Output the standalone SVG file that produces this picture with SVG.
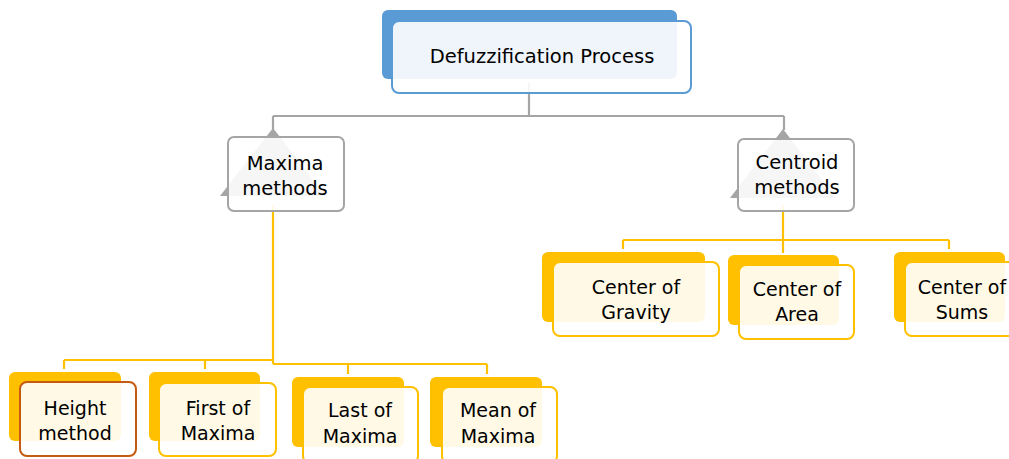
<svg xmlns="http://www.w3.org/2000/svg" width="1009" height="459" viewBox="0 0 1009 459">
<style>
.t{font-family:"DejaVu Sans",sans-serif;font-size:19px;fill:#000;text-anchor:middle}
.tl{font-size:19.5px}
.gl{fill:none;stroke:#A5A5A5;stroke-width:2.2}
.yl{fill:none;stroke:#FFC000;stroke-width:2.2}
.bb{fill:#5B9BD5}
.yb{fill:#FFC000}
.fb{fill:#fff;fill-opacity:0.9;stroke:#5B9BD5;stroke-width:2}
.fy{fill:#fff;fill-opacity:0.9;stroke:#FFC000;stroke-width:2}
.fh{fill:#fff;fill-opacity:0.9;stroke:#C55A11;stroke-width:2}
.fg{fill:#fff;fill-opacity:0.9;stroke:#A5A5A5;stroke-width:2}
.tri{fill:#A5A5A5}
</style>
<g id="connectors">
<path class="gl" d="M529,83 V116 M273,116 H784 M273,116 V129 M784,116 V130"/>
<path class="yl" d="M273,205 V364 M64,360 H273 M273,364 H487 M64,360 V369 M205,360 V369 M348,364 V374 M487,364 V374"/>
<path class="yl" d="M783,205 V253 M623,240 H949 M623,240 V249 M949,240 V249"/>
</g>
<g id="node-defuzzification">
<rect class="bb" x="382" y="10" width="295" height="69" rx="6"/>
<rect class="fb" x="392" y="21" width="299" height="72" rx="7"/>
<text class="t tl" x="542" y="63">Defuzzification Process</text>
</g>
<g id="node-maxima">
<polygon class="tri" points="273,128 220,196 326,196"/>
<rect class="fg" x="228" y="137" width="116" height="74" rx="6"/>
<text class="t tl" x="285" y="170">Maxima</text>
<text class="t tl" x="285" y="195">methods</text>
</g>
<g id="node-centroid">
<polygon class="tri" points="783,129 730,198 836,198"/>
<rect class="fg" x="738" y="139" width="116" height="72" rx="6"/>
<text class="t tl" x="797" y="169">Centroid</text>
<text class="t tl" x="797" y="194">methods</text>
</g>
<g id="node-cog">
<rect class="yb" x="542" y="252" width="163" height="70" rx="6"/>
<rect class="fy" x="553" y="262" width="166" height="74" rx="7"/>
<text class="t" x="636" y="294">Center of</text>
<text class="t" x="636" y="319">Gravity</text>
</g>
<g id="node-coa">
<rect class="yb" x="728" y="255" width="111" height="70" rx="6"/>
<rect class="fy" x="739" y="265" width="115" height="74" rx="7"/>
<text class="t" x="797" y="296">Center of</text>
<text class="t" x="797" y="321">Area</text>
</g>
<g id="node-cos">
<rect class="yb" x="894" y="252" width="111" height="70" rx="6"/>
<rect class="fy" x="905" y="262" width="116" height="74" rx="7"/>
<text class="t" x="962" y="294">Center of</text>
<text class="t" x="962" y="319">Sums</text>
</g>
<g id="node-height">
<rect class="yb" x="9" y="372" width="112" height="69" rx="6"/>
<rect class="fh" x="20" y="382" width="116" height="74" rx="7"/>
<text class="t" x="75" y="415">Height</text>
<text class="t" x="75" y="440">method</text>
</g>
<g id="node-first">
<rect class="yb" x="149" y="372" width="111" height="69" rx="6"/>
<rect class="fy" x="159" y="383" width="117" height="73" rx="7"/>
<text class="t" x="218" y="415">First of</text>
<text class="t" x="218" y="440">Maxima</text>
</g>
<g id="node-last">
<rect class="yb" x="292" y="377" width="112" height="70" rx="6"/>
<rect class="fy" x="303" y="387" width="115" height="76" rx="7"/>
<text class="t" x="360" y="417">Last of</text>
<text class="t" x="360" y="443">Maxima</text>
</g>
<g id="node-mean">
<rect class="yb" x="430" y="377" width="112" height="70" rx="6"/>
<rect class="fy" x="442" y="387" width="115" height="76" rx="7"/>
<text class="t" x="498" y="417">Mean of</text>
<text class="t" x="498" y="443">Maxima</text>
</g>
</svg>
